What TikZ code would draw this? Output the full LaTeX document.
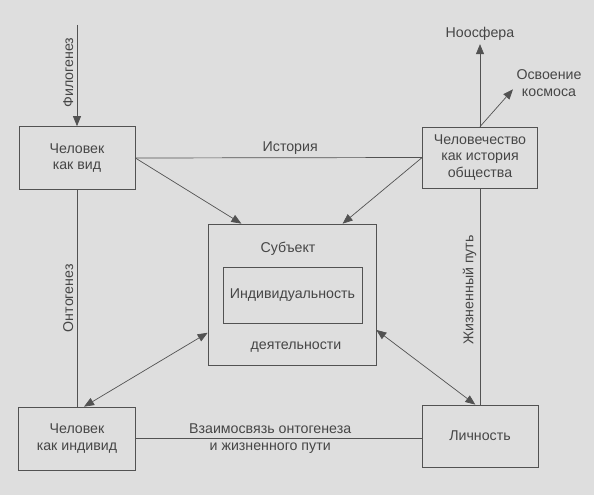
\documentclass[tikz,border=0pt]{standalone}
\usepackage{fontspec}
\setmainfont{Liberation Sans}
\usepackage{tikz}
\usetikzlibrary{positioning,calc,arrows.meta}
\definecolor{pagebg}{HTML}{DEDEDE}
\definecolor{inkgray}{HTML}{464646}
\definecolor{linegray}{HTML}{525252}

\begin{document}
\begin{tikzpicture}[x=1pt, y=-1pt,
    every node/.style={text=inkgray, font=\fontsize{14.2}{16.5}\selectfont},
    stage/.style={draw=linegray, line width=0.7pt, align=center, inner sep=0pt},
    link/.style={draw=linegray, line width=0.7pt},
    arr/.style={link, -{Triangle[length=10pt,width=8pt]}},
    darr/.style={link, {Triangle[length=10pt,width=8pt]}-{Triangle[length=10pt,width=8pt]}}]
  % background of the scan
  \fill[pagebg] (0,0) rectangle (594,495);

  % Corner boxes
  \node[stage, minimum width=116pt, minimum height=63pt] (vid) at (77,158) {Человек\\как вид};
  \node[stage, minimum width=115pt, minimum height=61pt] (obsh) at (480,157.5) {Человечество\\как история\\общества};
  \node[stage, minimum width=117pt, minimum height=63pt] (indiv) at (77,438.5) {Человек\\как индивид};
  \node[stage, minimum width=116pt, minimum height=62pt] (lichn) at (480,436) {Личность};

  % Subject of activity with individuality inside
  \node[stage, minimum width=168pt, minimum height=141pt] (subj) at (292,294.5) {};
  \node[stage, minimum width=139pt, minimum height=56pt] (indv) at (292.5,295) {Индивидуальность};
  \node (subjtop) at (288,249) {Субъект};
  \node (subjbot) at (296,347) {деятельности};

  % Outer targets
  \coordinate (phylo) at (77,25);
  \node (noos) at (480,34) {Ноосфера};
  \node[align=center] (kosmos) at (549,83) {Освоение\\космоса};

  % Phylogenesis and the society branch
  \draw[arr] (phylo) -- node[pos=0.47, rotate=90, anchor=south] {Филогенез} (vid.north);
  \draw[arr] (obsh.north) -- (noos.south);
  \draw[arr] (obsh.north) -- (kosmos.190);

  % History and the links into the subject
  \draw[link] (vid.east) -- node[pos=0.54, above] {История} (obsh.west);
  \draw[arr] (vid.east) -- ($(subj.north west)!0.2!(subj.north east)$);
  \draw[arr] (obsh.west) -- ($(subj.north west)!0.8!(subj.north east)$);

  % Ontogenesis and life path
  \draw[link] (vid.south) -- node[midway, rotate=90, anchor=south] {Онтогенез} (indiv.north);
  \draw[link] (obsh.south) -- node[pos=0.47, rotate=90, anchor=south] {Жизненный путь} (lichn.north);
  \draw[darr] ($(indiv.north west)!0.56!(indiv.north east)$) -- ($(subj.north west)!0.77!(subj.south west)$);
  \draw[darr] ($(subj.north east)!0.75!(subj.south east)$) -- ($(lichn.north west)!0.46!(lichn.north east)$);

  % Bottom connection
  \draw[link] (indiv.east) -- node[pos=0.47, align=center] {Взаимосвязь онтогенеза\\и жизненного пути} (indiv.east -| lichn.west);
\end{tikzpicture}
\end{document}
